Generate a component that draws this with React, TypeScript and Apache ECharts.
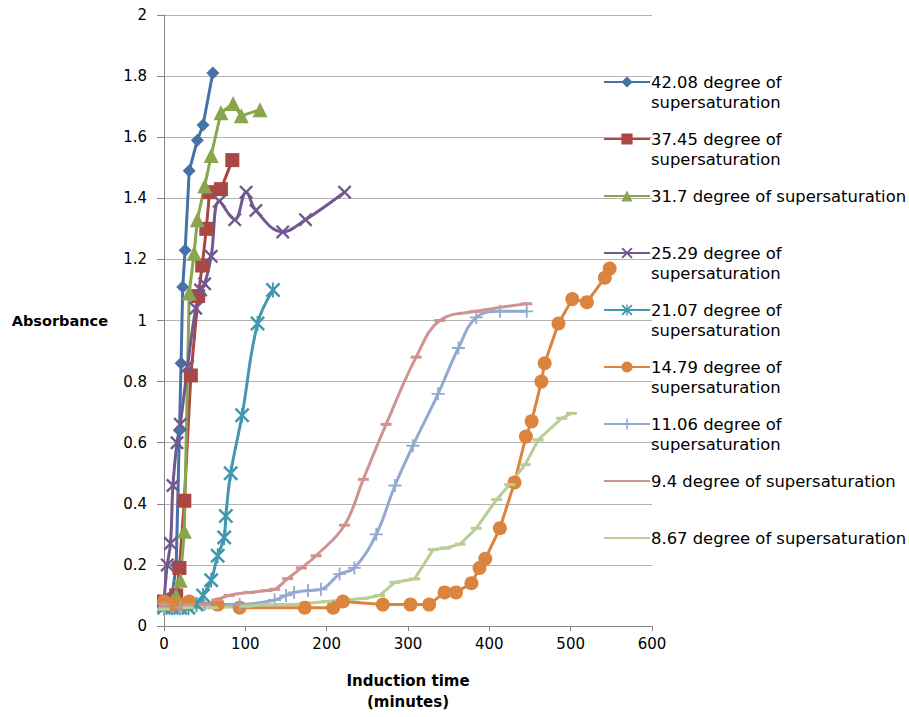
import React, { useEffect, useRef } from "react";
import * as echarts from "echarts";

const seriesNames = [
  "42.08 degree of supersaturation",
  "37.45 degree of supersaturation",
  "31.7 degree of supersaturation",
  "25.29 degree of supersaturation",
  "21.07 degree of supersaturation",
  "14.79 degree of supersaturation",
  "11.06 degree of supersaturation",
  "9.4 degree of supersaturation",
  "8.67 degree of supersaturation",
];

const legendLines: Record<string, string[]> = {
  "42.08 degree of supersaturation": ["42.08 degree of", "supersaturation"],
  "37.45 degree of supersaturation": ["37.45 degree of", "supersaturation"],
  "31.7 degree of supersaturation": ["31.7 degree of supersaturation"],
  "25.29 degree of supersaturation": ["25.29 degree of", "supersaturation"],
  "21.07 degree of supersaturation": ["21.07 degree of", "supersaturation"],
  "14.79 degree of supersaturation": ["14.79 degree of", "supersaturation"],
  "11.06 degree of supersaturation": ["11.06 degree of", "supersaturation"],
  "9.4 degree of supersaturation": ["9.4 degree of supersaturation"],
  "8.67 degree of supersaturation": ["8.67 degree of supersaturation"],
};

// 42.08
const t1 = [0, 5, 10, 15, 19, 21, 23, 26, 31, 41, 48, 60];
const v1 = [0.08, 0.09, 0.1, 0.2, 0.64, 0.86, 1.11, 1.23, 1.49, 1.59, 1.64, 1.81];
// 37.45
const t2 = [0, 10, 15, 19, 25, 33, 42, 47, 52, 56, 70, 84];
const v2 = [0.08, 0.08, 0.1, 0.19, 0.41, 0.82, 1.08, 1.18, 1.3, 1.42, 1.43, 1.525];
// 31.7
const t3 = [0, 10, 15, 20, 25, 31, 37, 41, 50, 58, 70, 85, 95, 118];
const v3 = [0.07, 0.08, 0.1, 0.15, 0.31, 1.09, 1.22, 1.33, 1.44, 1.54, 1.68, 1.71, 1.67, 1.69];
// 25.29
const t4 = [0, 4, 8, 11, 16, 20, 29, 39, 45, 50, 58, 68, 87, 101, 113, 146, 174, 222];
const v4 = [0.08, 0.2, 0.27, 0.46, 0.6, 0.66, 0.85, 1.04, 1.1, 1.12, 1.21, 1.39, 1.33, 1.42, 1.36, 1.29, 1.33, 1.42];
// 21.07
const t5 = [0, 10, 20, 30, 40, 48, 58, 66, 74, 76, 82, 96, 115, 134];
const v5 = [0.06, 0.06, 0.06, 0.06, 0.07, 0.1, 0.15, 0.23, 0.29, 0.36, 0.5, 0.69, 0.99, 1.1];
// 14.79
const t6 = [0, 10, 20, 31, 66, 93, 173, 208, 220, 269, 303, 326, 345, 359, 378, 388, 395, 413, 431, 445, 452, 464, 468, 485, 502, 520, 542, 548];
const v6 = [0.08, 0.07, 0.07, 0.08, 0.07, 0.06, 0.06, 0.06, 0.08, 0.07, 0.07, 0.07, 0.11, 0.11, 0.14, 0.19, 0.22, 0.32, 0.47, 0.62, 0.67, 0.8, 0.86, 0.99, 1.07, 1.06, 1.14, 1.17];
// 11.06
const t7 = [0, 20, 50, 93, 136, 150, 160, 177, 193, 216, 234, 261, 284, 306, 337, 362, 384, 413, 446];
const v7 = [0.06, 0.06, 0.07, 0.07, 0.085, 0.1, 0.11, 0.116, 0.12, 0.17, 0.19, 0.3, 0.46, 0.59, 0.76, 0.91, 1.01, 1.03, 1.03];
// 9.4
const t8 = [0, 30, 50, 65, 80, 105, 126, 136, 152, 169, 187, 222, 245, 273, 310, 339, 384, 446];
const v8 = [0.07, 0.07, 0.07, 0.085, 0.1, 0.11, 0.116, 0.12, 0.155, 0.19, 0.23, 0.33, 0.48, 0.66, 0.88, 1.0, 1.03, 1.055];
// 8.67
const t9 = [0, 30, 60, 100, 130, 160, 200, 245, 265, 284, 308, 331, 346, 364, 384, 409, 425, 444, 460, 489, 501];
const v9 = [0.055, 0.06, 0.06, 0.065, 0.07, 0.07, 0.08, 0.09, 0.1, 0.143, 0.154, 0.25, 0.255, 0.268, 0.32, 0.414, 0.463, 0.528, 0.609, 0.68, 0.696];

const colors = ["#4572A7", "#AA4643", "#89A54E", "#71588F", "#4198AF", "#DB843D", "#93A9CF", "#D19392", "#B9CD96"];

const X_SYM = "path://M1.2,0L5,3.8L8.8,0L10,1.2L6.2,5L10,8.8L8.8,10L5,6.2L1.2,10L0,8.8L3.8,5L0,1.2Z";
const AST_SYM = "path://M1.2,0L5,3.8L8.8,0L10,1.2L6.2,5L10,8.8L8.8,10L5,6.2L1.2,10L0,8.8L3.8,5L0,1.2Z M4.4,0H5.6V10H4.4Z";
const PLUS_SYM = "path://M4.3,0H5.7V4.3H10V5.7H5.7V10H4.3V5.7H0V4.3H4.3Z";

const allT = [t1, t2, t3, t4, t5, t6, t7, t8, t9];
const allV = [v1, v2, v3, v4, v5, v6, v7, v8, v9];
const symbols: any[] = ["diamond", "rect", "triangle", X_SYM, AST_SYM, "circle", PLUS_SYM, "rect", "rect"];
const symbolSizes: any[] = [13, 14, 15, 14, 15, 14, 13, [11, 3], [11, 3]];
const smoothFlags = [false, false, false, 0.4, 0.4, false, 0.4, 0.4, false];
const legendHideMarker = [false, false, false, false, false, false, false, true, true];

export default function App() {
  const ref = useRef<HTMLDivElement>(null);
  useEffect(() => {
    document.body.style.margin = "0";
    document.body.style.overflow = "hidden";
    document.documentElement.style.overflow = "hidden";
    if (!ref.current) return;
    const chart = echarts.init(ref.current, undefined, { renderer: "svg" });
    const font = "'DejaVu Sans', sans-serif";
    const series = seriesNames.map((name, i) => ({
      name,
      type: "line",
      data: allT[i].map((t, j) => [t, allV[i][j]]),
      symbol: symbols[i],
      symbolSize: symbolSizes[i],
      smooth: smoothFlags[i],
      showAllSymbol: true,
      lineStyle: { width: 3, color: colors[i] },
      itemStyle: { color: colors[i] },
      emphasis: { disabled: true },
    }));
    chart.setOption({
      animation: false,
      color: colors,
      grid: { left: 164, right: 257, top: 15, bottom: 86, containLabel: false },
      xAxis: {
        type: "value",
        min: 0,
        max: 600,
        interval: 100,
        name: "Induction time\n(minutes)",
        nameLocation: "middle",
        nameGap: 44,
        nameTextStyle: { fontFamily: font, fontSize: 15, fontWeight: "bold", color: "#000", lineHeight: 21 },
        axisLine: { lineStyle: { color: "#868686", width: 1 } },
        axisTick: { show: true, inside: false, length: 5, lineStyle: { color: "#868686" } },
        axisLabel: { fontFamily: font, fontSize: 15, color: "#000", margin: 10 },
        splitLine: { show: false },
      },
      yAxis: {
        type: "value",
        min: 0,
        max: 2,
        interval: 0.2,
        name: "Absorbance",
        nameLocation: "middle",
        nameRotate: 0,
        nameGap: 56,
        nameTextStyle: { fontFamily: font, fontSize: 14.5, fontWeight: "bold", color: "#000", align: "right" },
        axisLine: { show: true, lineStyle: { color: "#868686", width: 1 } },
        axisTick: { show: true, inside: false, length: 7, lineStyle: { color: "#868686" } },
        axisLabel: { fontFamily: font, fontSize: 15, color: "#000", margin: 17 },
        splitLine: { show: true, lineStyle: { color: "#B3B3B3", width: 1 } },
      },
      legend: {
        orient: "vertical",
        left: 603,
        top: 52,
        padding: 0,
        itemGap: -3,
        itemWidth: 46,
        itemHeight: 14,
        data: seriesNames.map((name, i) =>
          legendHideMarker[i] ? { name, itemStyle: { opacity: 0 } } : { name }
        ),
        selectedMode: false,
        textStyle: { fontFamily: font, fontSize: 16.4, color: "#000", lineHeight: 20, padding: [0, 0, 0, -4] },
        formatter: (name: string) => {
          const lines = legendLines[name];
          return lines.length === 2 ? " \n" + lines[0] + "\n" + lines[1] : " \n" + lines[0] + "\n ";
        },
      },
      series,
    });
    return () => chart.dispose();
  }, []);
  return (
    <div
      ref={ref}
      style={{ position: "fixed", left: 0, top: 0, width: 909, height: 717, background: "#fff" }}
    />
  );
}
